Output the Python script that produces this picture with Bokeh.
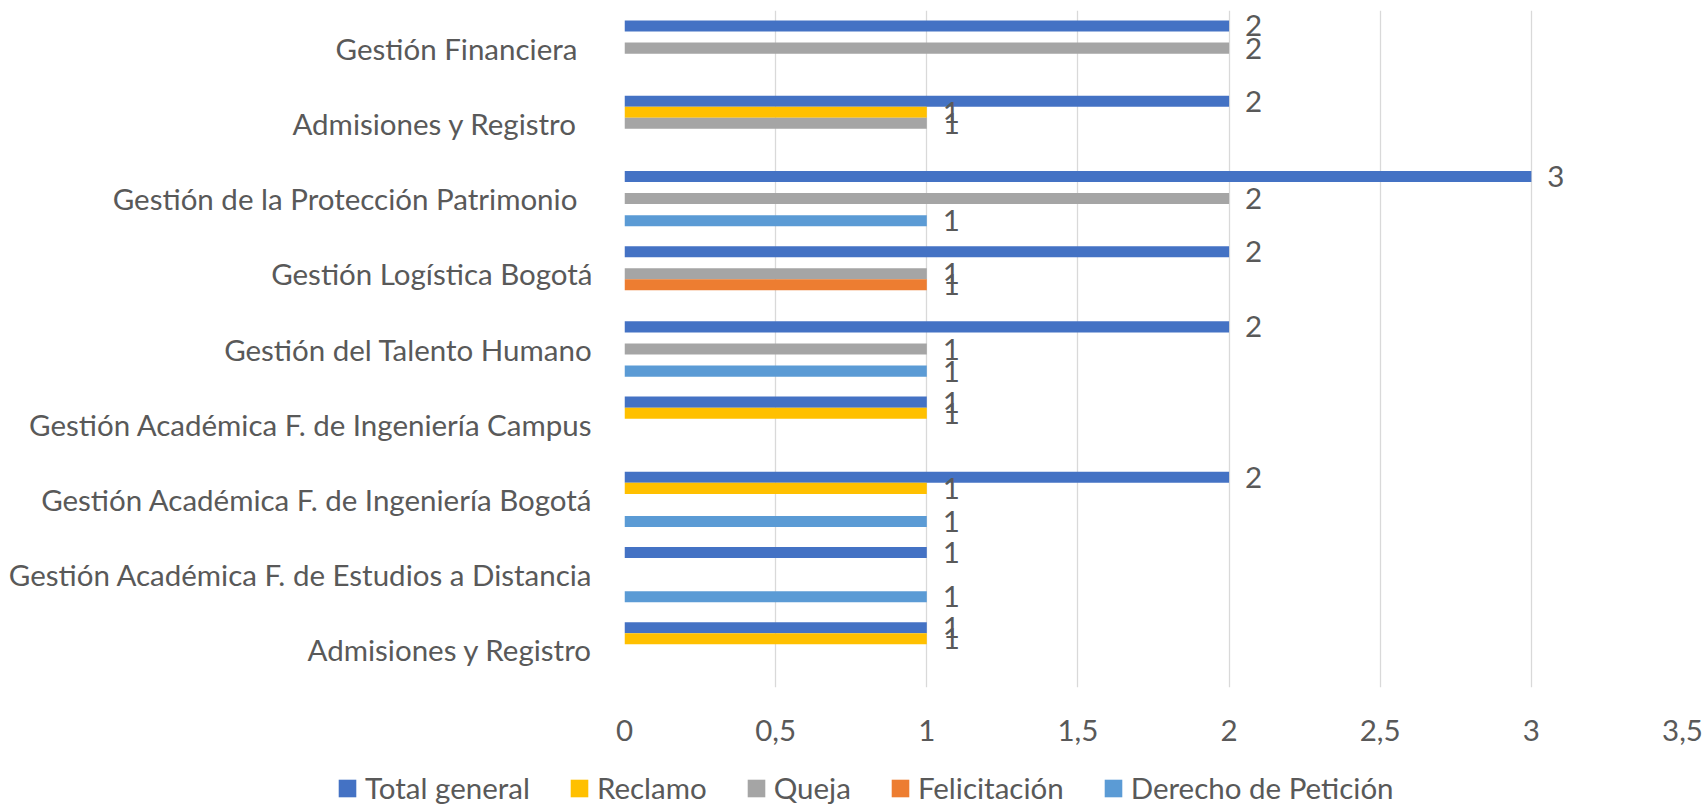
from bokeh.plotting import figure
from bokeh.models import (ColumnDataSource, FactorRange, Range1d, FixedTicker,
                          LabelSet, Legend, LegendItem)
from bokeh.transform import dodge
from bokeh.core.properties import value
from bokeh.embed import file_html
from bokeh.resources import INLINE

# ---------------- data ----------------
categories = [
    "Admisiones y Registro",
    "Gestión Académica F. de Estudios a Distancia",
    "Gestión Académica F. de Ingeniería Bogotá",
    "Gestión Académica F. de Ingeniería Campus",
    "Gestión del Talento Humano",
    "Gestión Logística Bogotá",
    "Gestión de la Protección Patrimonio  ",
    "Admisiones y Registro  ",
    "Gestión Financiera  ",
]
series_names = ["Total general", "Reclamo", "Queja", "Felicitación", "Derecho de Petición"]
total_general = [1, 1, 2, 1, 2, 2, 3, 2, 2]
reclamo = [1, None, 1, 1, None, None, None, 1, None]
queja = [None, None, None, None, 1, 1, 2, 1, 2]
felicitacion = [None, None, None, None, None, 1, None, None, None]
derecho_peticion = [None, 1, 1, None, 1, None, 1, None, None]
x_ticks = [0, 0.5, 1, 1.5, 2, 2.5, 3, 3.5]
x_tick_labels = ["0", "0,5", "1", "1,5", "2", "2,5", "3", "3,5"]

series_values = [total_general, reclamo, queja, felicitacion, derecho_peticion]
colors = ["#4472C4", "#FFC000", "#A5A5A5", "#ED7D31", "#5B9BD5"]

FONT = "Lato"
TEXT_COLOR = "#595959"
FS = "29.5px"

p = figure(width=1705, height=760, output_backend="svg", toolbar_location=None,
           y_range=FactorRange(factors=categories, range_padding=0),
           x_range=Range1d(0, 3.5),
           min_border_left=624, min_border_right=23, min_border_top=10,
           min_border_bottom=73)
p.outline_line_color = None
p.background_fill_color = "white"

bar_h = 0.147
offsets = [2 * bar_h, bar_h, 0, -bar_h, -2 * bar_h]

for name, vals, col, off in zip(series_names, series_values, colors, offsets):
    cats = [c for c, v in zip(categories, vals) if v is not None]
    vs = [v for v in vals if v is not None]
    src = ColumnDataSource(dict(cat=cats, val=vs, txt=[str(v) for v in vs]))
    p.hbar(y=dodge("cat", off, range=p.y_range), right="val", left=0,
           height=bar_h, source=src, fill_color=col, line_color=None)
    lbl = LabelSet(x="val", y=dodge("cat", off, range=p.y_range), text="txt",
                   source=src, x_offset=16, text_align="left",
                   text_baseline="middle", text_font=value(FONT),
                   text_font_size=value(FS), text_color=TEXT_COLOR)
    p.add_layout(lbl)

# axes
p.xaxis.ticker = FixedTicker(ticks=x_ticks)
p.xaxis.major_label_overrides = {t: l for t, l in zip(x_ticks, x_tick_labels)}
for ax in (p.xaxis[0], p.yaxis[0]):
    ax.axis_line_color = None
    ax.major_tick_line_color = None
    ax.minor_tick_line_color = None
    ax.major_label_text_font = FONT
    ax.major_label_text_font_size = FS
    ax.major_label_text_color = TEXT_COLOR
p.xaxis.major_label_standoff = 26
p.yaxis.major_label_standoff = 26

p.xgrid.grid_line_color = "#D9D9D9"
p.xgrid.grid_line_width = 1.3
p.ygrid.grid_line_color = None

# ---------------- legend (separate strip below the chart) ----------------
leg = figure(width=1705, height=47, output_backend="svg", toolbar_location=None,
             x_axis_type=None, y_axis_type=None,
             x_range=Range1d(0, 1), y_range=Range1d(0, 1),
             min_border=0, min_border_left=0, min_border_right=0,
             min_border_top=0, min_border_bottom=0)
leg.outline_line_color = None
leg.xgrid.grid_line_color = None
leg.ygrid.grid_line_color = None
items = []
for name, col in zip(series_names, colors):
    # zero-width proxy bar: only provides the legend swatch
    r = leg.hbar(y=[0.5], right=[0], left=0, height=0.5,
                 fill_color=col, line_color=None)
    items.append(LegendItem(label=name, renderers=[r]))
legend = Legend(items=items, orientation="horizontal", location=(336, 2),
                padding=0, margin=0, spacing=38, label_standoff=7,
                glyph_width=22, glyph_height=22,
                label_text_font=FONT, label_text_font_size=FS,
                label_text_color=TEXT_COLOR,
                border_line_color=None, background_fill_alpha=0)
leg.add_layout(legend, "center")

open("out.html", "w").write(file_html([p, leg], INLINE))
